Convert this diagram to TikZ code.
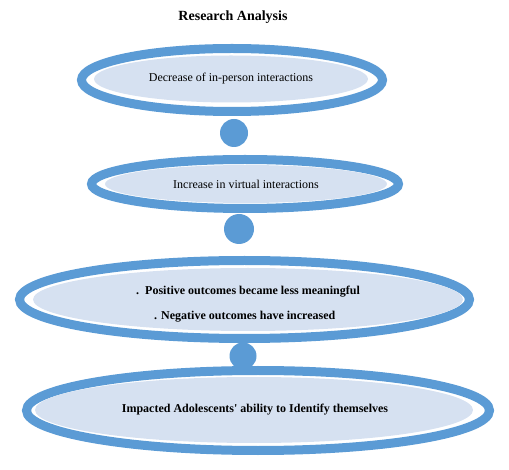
\documentclass[tikz,border=0pt]{standalone}
\usepackage{fontspec}
\setmainfont{Liberation Serif}
\definecolor{ringblue}{HTML}{5B9BD5}
\definecolor{fillblue}{HTML}{D6E1F1}
\begin{document}
\begin{tikzpicture}[x=1pt,y=-1pt,
  ring/.style={draw=ringblue,line width=9pt},
  core/.style={fill=fillblue},
  dot/.style={circle,fill=ringblue,inner sep=0pt},
  lbl/.style={font=\fontsize{12}{14}\selectfont,inner sep=0pt},
  blbl/.style={font=\fontsize{12}{14}\selectfont\bfseries,inner sep=0pt}]
\useasboundingbox (0,0) rectangle (509,470);
\node[font=\fontsize{14}{16}\selectfont\bfseries] (title) at (233,17) {Research Analysis};
% ellipse 1
\draw[ring] (232,80) ellipse [x radius=150.5,y radius=31.5];
\fill[core] (231,79) ellipse [x radius=137,y radius=23.5];
\node[lbl] (t1) at (231,79) {Decrease of in-person interactions};
\node[dot,minimum size=28pt] (c1) at (234,133) {};
% ellipse 2
\draw[ring] (245,184) ellipse [x radius=153.5,y radius=24.5];
\fill[core] (246,184) ellipse [x radius=141,y radius=19];
\node[lbl] (t2) at (246,184) {Increase in virtual interactions};
\node[dot,minimum size=30pt] (c2) at (239,229) {};
% ellipse 3
\draw[ring] (244.5,299.5) ellipse [x radius=225,y radius=39];
\fill[core] (248,299.5) ellipse [x radius=215,y radius=31.5];
\node[blbl,anchor=west] (t3a) at (136,292) {.\hspace{6pt}Positive outcomes became less meaningful};
\node[blbl,anchor=west] (t3b) at (154,317) {. Negative outcomes have increased};
% ellipse 4 with dot
\node[dot,minimum size=27pt] (c3) at (243,356) {};
\draw[ring] (258,410.5) ellipse [x radius=231.5,y radius=40];
\fill[core] (254,410) ellipse [x radius=219,y radius=33];
\node[blbl] (t4) at (255,410) {Impacted Adolescents\textquotesingle{} ability to Identify themselves};
\end{tikzpicture}
\end{document}
